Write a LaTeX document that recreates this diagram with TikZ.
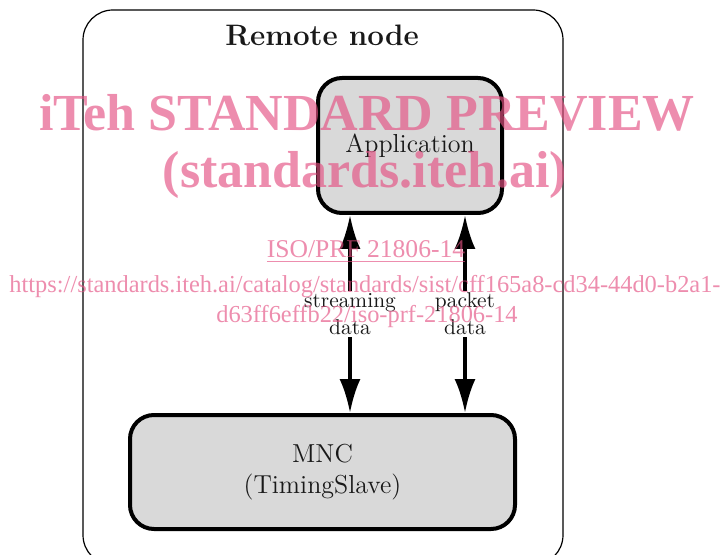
\documentclass[tikz,border=0pt]{standalone}
\usepackage{fontspec}
\usetikzlibrary{positioning, arrows.meta}
\newfontfamily\wmfont{Liberation Serif}
\definecolor{wmpink}{RGB}{228,80,130}
\definecolor{boxgray}{RGB}{217,217,217}

\begin{document}
\begin{tikzpicture}[x=0.5pt, y=-0.5pt,
  blockbox/.style={draw=black, line width=2pt, fill=boxgray, rounded corners=12pt,
    align=center, text=black!90, font=\fontsize{13}{15.5}\selectfont},
  dataarrow/.style={line width=2pt, {Latex[length=17pt,width=10.5pt]}-{Latex[length=17pt,width=10.5pt]}},
  datalabel/.style={fill=white, align=center, inner sep=1pt, text=black!90,
    font=\fontsize{10.7}{13.5}\selectfont},
  wm/.style={text=wmpink, opacity=0.65, anchor=base}]
\useasboundingbox (0,0) rectangle (722,555);

% --- Remote node ---
\node[draw, line width=0.6pt, rounded corners=15pt, minimum width=240pt, minimum height=277.5pt] (remote) at (323,287.5) {};
\node[text=black!90, font=\bfseries\fontsize{14.8}{17}\selectfont] (title) at (322,35) {Remote node};

% --- Blocks ---
\node[blockbox, minimum width=92pt, minimum height=67.5pt] (app) at (410,145.5) {Application};
\node[blockbox, minimum width=192.5pt, minimum height=57pt] (mnc) at (322.5,472) {MNC\\(TimingSlave)};

% --- Data paths ---
\coordinate (streamx) at (350,0);
\coordinate (packetx) at (465,0);
\draw[dataarrow] (app.south -| streamx) -- (mnc.north -| streamx);
\draw[dataarrow] (app.south -| packetx) -- (mnc.north -| packetx);
\node[datalabel] (stream) at (350,314) {streaming\\data};
\node[datalabel] (packet) at (465,314) {packet\\data};

% --- Watermark ---
\node[wm, font=\wmfont\bfseries\fontsize{26}{30}\selectfont] (wm1) at (367,131) {iTeh STANDARD PREVIEW};
\node[wm, font=\wmfont\bfseries\fontsize{26}{30}\selectfont] (wm2) at (365,188) {(standards.iteh.ai)};
\node[wm, font=\wmfont\fontsize{12.8}{15}\selectfont] (wm3) at (366,258) {\underline{ISO/PRF 21806-14}};
\node[wm, font=\wmfont\fontsize{12.2}{15}\selectfont] (wm4) at (365,293) {https://standards.iteh.ai/catalog/standards/sist/cff165a8-cd34-44d0-b2a1-};
\node[wm, font=\wmfont\fontsize{12.2}{15}\selectfont] (wm5) at (367,323) {d63ff6effb22/iso-prf-21806-14};
\end{tikzpicture}
\end{document}
